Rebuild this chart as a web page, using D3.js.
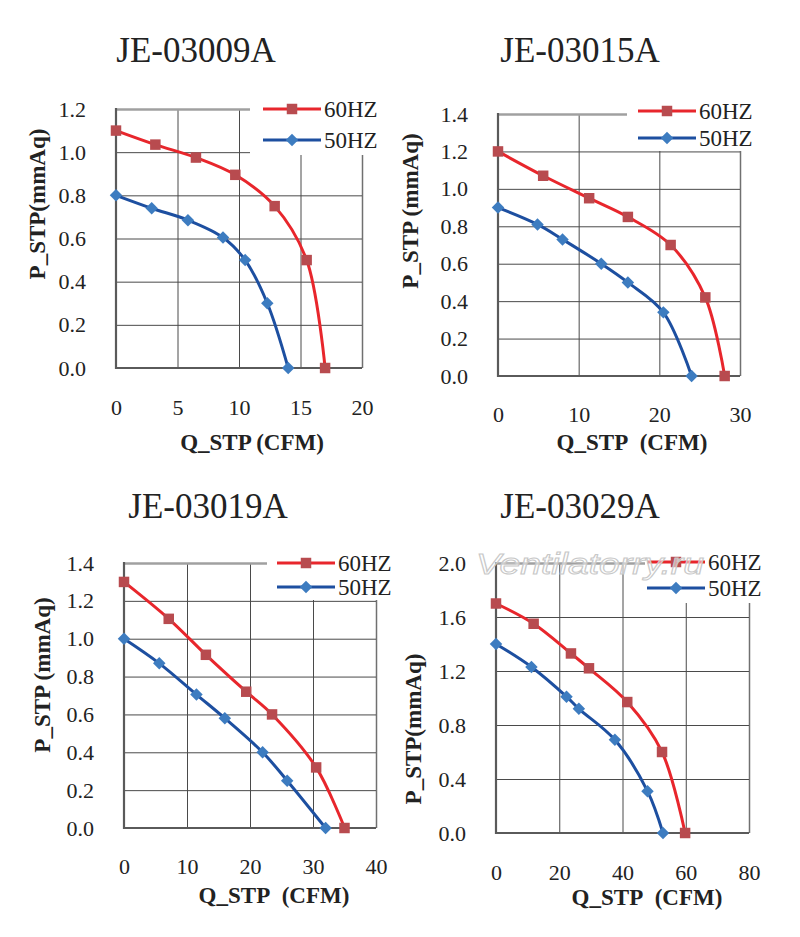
<!DOCTYPE html>
<html>
<head>
<meta charset="utf-8">
<script src="https://cdn.jsdelivr.net/npm/d3@7"></script>
<style>
body{margin:0;background:#fff;}
</style>
</head>
<body>
<svg id="chart" width="800" height="937"></svg>
<script>
// chart titles and axis ranges
var titles = ["JE-03009A", "JE-03015A", "JE-03019A", "JE-03029A"];
var yLabels = ["P_STP(mmAq)", "P_STP (mmAq)", "P_STP (mmAq)", "P_STP(mmAq)"];
var xLabels = ["Q_STP (CFM)", "Q_STP\u00a0\u00a0(CFM)", "Q_STP\u00a0\u00a0(CFM)", "Q_STP\u00a0\u00a0(CFM)"];
var xTicks = [[0,5,10,15,20], [0,10,20,30], [0,10,20,30,40], [0,20,40,60,80]];
var yTicks = [[0,0.2,0.4,0.6,0.8,1.0,1.2], [0,0.2,0.4,0.6,0.8,1.0,1.2,1.4], [0,0.2,0.4,0.6,0.8,1.0,1.2,1.4], [0,0.4,0.8,1.2,1.6,2.0]];
var seriesNames = ["60HZ", "50HZ"];

// Q (CFM), P (mmAq)
var q60_03009 = [0, 3.2, 6.5, 9.7, 12.9, 15.5, 17.0];
var p60_03009 = [1.10, 1.035, 0.975, 0.895, 0.75, 0.50, 0];
var q50_03009 = [0, 2.9, 5.85, 8.7, 10.5, 12.3, 14.0];
var p50_03009 = [0.80, 0.74, 0.685, 0.605, 0.50, 0.30, 0];

var q60_03015 = [0, 5.6, 11.3, 16.1, 21.4, 25.7, 28.1];
var p60_03015 = [1.20, 1.07, 0.95, 0.85, 0.70, 0.42, 0];
var q50_03015 = [0, 4.9, 8.0, 12.8, 16.1, 20.5, 24.0];
var p50_03015 = [0.90, 0.81, 0.73, 0.60, 0.50, 0.34, 0];

var q60_03019 = [0, 7.1, 13.0, 19.4, 23.5, 30.5, 35.0];
var p60_03019 = [1.30, 1.105, 0.915, 0.72, 0.60, 0.32, 0];
var q50_03019 = [0, 5.6, 11.5, 16.0, 22.0, 25.9, 32.0];
var p50_03019 = [1.00, 0.87, 0.705, 0.58, 0.40, 0.25, 0];

var q60_03029 = [0, 11.9, 23.7, 29.4, 41.5, 52.5, 59.8];
var p60_03029 = [1.70, 1.55, 1.33, 1.22, 0.97, 0.60, 0];
var q50_03029 = [0, 11.2, 22.3, 26.2, 37.6, 47.9, 52.8];
var p50_03029 = [1.40, 1.23, 1.01, 0.92, 0.69, 0.31, 0];

var q60 = [q60_03009, q60_03015, q60_03019, q60_03029];
var p60 = [p60_03009, p60_03015, p60_03019, p60_03029];
var q50 = [q50_03009, q50_03015, q50_03019, q50_03029];
var p50 = [p50_03009, p50_03015, p50_03019, p50_03029];

// page layout of the four panels
var layout = [
	{left:116, right:362, top:109, bottom:368, titleX:196, titleY:62, yLabX:37, yLabY:204, xTickPad:31, xLabX:252, xLabY:450, legX:263, legY:[109,140], box:[250,92,150,63]},
	{left:498, right:740, top:114, bottom:376, titleX:580, titleY:62, yLabX:410, yLabY:211, xTickPad:30, xLabX:632, xLabY:450, legX:638, legY:[111,138], box:[627,92,173,59]},
	{left:124, right:376, top:563, bottom:828, titleX:208, titleY:518, yLabX:42, yLabY:675, xTickPad:30, xLabX:274, xLabY:903, legX:277, legY:[563,587], box:[267,545,133,55]},
	{left:496, right:749, top:563, bottom:833, titleX:580, titleY:518, yLabX:413, yLabY:729, xTickPad:31, xLabX:647, xLabY:905, legX:647, legY:[562,588], box:[645,545,155,58]}
];

var lineColors = ["#e8262c", "#1d4fa0"];
var markColors = ["#b84b4f", "#3d7cc0"];
var serif = "'Liberation Serif', 'Times New Roman', serif";
var svg = d3.select("#chart");

function serifText(sel, size, bold)
{
	return sel.style("font-family", serif).style("font-size", size + "px")
		.style("font-weight", bold ? "bold" : "normal").attr("fill", "#222");
}

function drawPanel(i)
{
	var L = layout[i];
	var x = d3.scaleLinear().domain([0, d3.max(xTicks[i])]).range([L.left, L.right]);
	var y = d3.scaleLinear().domain([0, d3.max(yTicks[i])]).range([L.bottom, L.top]);
	var g = svg.append("g");

	serifText(g.append("text").attr("x", L.titleX).attr("y", L.titleY).attr("text-anchor", "middle"), 35)
		.text(titles[i]);

	// grid lines
	var gx = g.append("g").attr("transform", "translate(0," + L.bottom + ")")
		.call(d3.axisBottom(x).tickValues(xTicks[i].slice(1)).tickSize(-(L.bottom - L.top)).tickFormat(""));
	var gy = g.append("g").attr("transform", "translate(" + L.left + ",0)")
		.call(d3.axisLeft(y).tickValues(yTicks[i].slice(1)).tickSize(-(L.right - L.left)).tickFormat(""));
	[gx, gy].forEach(function(a){
		a.select(".domain").remove();
		a.selectAll("line").attr("stroke", "#4a4a4a").attr("stroke-width", 1);
	});
	gy.selectAll(".tick").filter(function(d){return d == d3.max(yTicks[i]);}).select("line")
		.attr("stroke", "#a0a0a0").attr("stroke-width", 2.5);
	gx.selectAll(".tick").filter(function(d){return d == d3.max(xTicks[i]);}).select("line")
		.attr("stroke", "#707070").attr("stroke-width", 1.5);

	// tick labels
	var ax = g.append("g").attr("transform", "translate(0," + L.bottom + ")")
		.call(d3.axisBottom(x).tickValues(xTicks[i]).tickSize(0).tickPadding(L.xTickPad));
	var ay = g.append("g").attr("transform", "translate(" + L.left + ",0)")
		.call(d3.axisLeft(y).tickValues(yTicks[i]).tickSize(0).tickPadding(30).tickFormat(d3.format(".1f")));
	[ax, ay].forEach(function(a){
		a.select(".domain").remove();
		a.attr("font-family", null).attr("font-size", null);
		serifText(a.selectAll("text"), 22);
	});

	// left and bottom frame
	g.append("line").attr("x1", L.left).attr("x2", L.left).attr("y1", L.top - 1).attr("y2", L.bottom + 1)
		.attr("stroke", "#5a5a5a").attr("stroke-width", 2.2);
	g.append("line").attr("x1", L.left).attr("x2", L.right).attr("y1", L.bottom).attr("y2", L.bottom)
		.attr("stroke", "#5a5a5a").attr("stroke-width", 2.2);

	serifText(g.append("text").attr("transform", "translate(" + L.yLabX + "," + L.yLabY + ") rotate(-90)")
		.attr("text-anchor", "middle").attr("dy", "0.35em"), 23, true).text(yLabels[i]);
	serifText(g.append("text").attr("x", L.xLabX).attr("y", L.xLabY).attr("text-anchor", "middle"), 23, true)
		.text(xLabels[i]);

	// legend background hides the top right corner of the frame
	g.append("rect").attr("x", L.box[0]).attr("y", L.box[1]).attr("width", L.box[2]).attr("height", L.box[3]).attr("fill", "#fff");

	var line = d3.line().x(function(d){return x(d[0]);}).y(function(d){return y(d[1]);}).curve(d3.curveCatmullRom.alpha(0.5));
	var sets = [d3.zip(q60[i], p60[i]), d3.zip(q50[i], p50[i])];
	var shapes = [d3.symbol().type(d3.symbolSquare).size(110), d3.symbol().type(d3.symbolSquare).size(78)];
	var rot = [0, 45];

	sets.forEach(function(pts, s){
		g.append("path").attr("d", line(pts)).attr("fill", "none")
			.attr("stroke", lineColors[s]).attr("stroke-width", 3);
		g.selectAll(".m" + s).data(pts).enter().append("path")
			.attr("d", shapes[s])
			.attr("transform", function(d){return "translate(" + x(d[0]) + "," + y(d[1]) + ") rotate(" + rot[s] + ")";})
			.attr("fill", markColors[s]);

		g.append("line").attr("x1", L.legX).attr("x2", L.legX + 58).attr("y1", L.legY[s]).attr("y2", L.legY[s])
			.attr("stroke", lineColors[s]).attr("stroke-width", 3);
		g.append("path").attr("d", shapes[s])
			.attr("transform", "translate(" + (L.legX + 29) + "," + L.legY[s] + ") rotate(" + rot[s] + ")")
			.attr("fill", markColors[s]);
		serifText(g.append("text").attr("x", L.legX + 61).attr("y", L.legY[s]).attr("dy", "0.35em"), 23)
			.text(seriesNames[s]);
	});
}

for (var i = 0; i < titles.length; i++)
	drawPanel(i);

// site watermark over the last panel
svg.append("text").attr("x", 476).attr("y", 574)
	.style("font-family", "'Liberation Sans', sans-serif").style("font-style", "italic")
	.style("font-size", "29px").attr("fill", "rgba(255,255,255,0.5)").attr("stroke", "#c8c8c8").attr("stroke-width", 1)
	.attr("textLength", 228).attr("lengthAdjust", "spacingAndGlyphs")
	.text("Ventilatorry.ru");
</script>
</body>
</html>
